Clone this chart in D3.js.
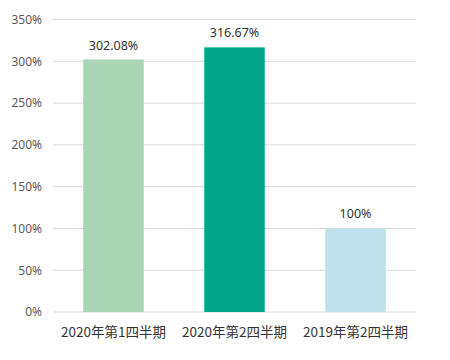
<!DOCTYPE html>
<html>
<head>
<meta charset="utf-8">
<script src="https://cdn.jsdelivr.net/npm/d3@7"></script>
<style>
  body { margin: 0; background: #fff; }
</style>
</head>
<body>
<script>
// Data
const categories = ["2020年第1四半期", "2020年第2四半期", "2019年第2四半期"];
const values = [302.08, 316.67, 100];
const valueLabels = ["302.08%", "316.67%", "100%"];
const barColors = ["#a9d5b6", "#01a78a", "#bde0ea"];
const yTicks = [0, 50, 100, 150, 200, 250, 300, 350];

const W = 450, H = 360;
const margin = { top: 19.5, right: 34, bottom: 48, left: 53 };
const width = W - margin.left - margin.right,
      height = H - margin.top - margin.bottom;

const svg = d3.select("body")
  .append("svg")
  .attr("width", W)
  .attr("height", H)
  .append("g")
  .attr("transform", `translate(${margin.left},${margin.top})`);

const x = d3.scaleBand()
  .domain(categories)
  .range([0, width])
  .paddingInner(0.5)
  .paddingOuter(0.25);

const y = d3.scaleLinear()
  .domain([0, 350])
  .range([height, 0]);

// Gridlines
svg.selectAll(".grid")
  .data(yTicks)
  .enter()
  .append("line")
  .attr("x1", 0)
  .attr("x2", width)
  .attr("y1", d => y(d))
  .attr("y2", d => y(d))
  .attr("stroke", "#d9d9d9")
  .attr("stroke-width", 1);

// Y axis labels
const yAxis = svg.append("g")
  .call(d3.axisLeft(y).tickValues(yTicks).tickFormat(d => d + "%").tickSize(0).tickPadding(11));
yAxis.select(".domain").remove();
yAxis.selectAll("text")
  .attr("fill", "#595959")
  .style("font-family", "'Noto Sans', sans-serif")
  .style("font-size", "12px");

// Bars
svg.selectAll(".bar")
  .data(values)
  .enter()
  .append("rect")
  .attr("x", (d, i) => x(categories[i]))
  .attr("y", d => y(d))
  .attr("width", x.bandwidth())
  .attr("height", d => height - y(d))
  .attr("fill", (d, i) => barColors[i]);

// Value labels
svg.selectAll(".val")
  .data(values)
  .enter()
  .append("text")
  .attr("x", (d, i) => x(categories[i]) + x.bandwidth() / 2)
  .attr("y", d => y(d) - 10)
  .attr("text-anchor", "middle")
  .attr("fill", "#333")
  .style("font-family", "'Noto Sans', sans-serif")
  .style("font-size", "12.5px")
  .text((d, i) => valueLabels[i]);

// X axis labels
const xAxis = svg.append("g")
  .attr("transform", `translate(0,${height})`)
  .call(d3.axisBottom(x).tickSize(0).tickPadding(15));
xAxis.select(".domain").remove();
xAxis.selectAll("text")
  .attr("fill", "#333")
  .style("font-family", "'Noto Sans CJK JP', sans-serif")
  .style("font-size", "13.5px");
</script>
</body>
</html>
